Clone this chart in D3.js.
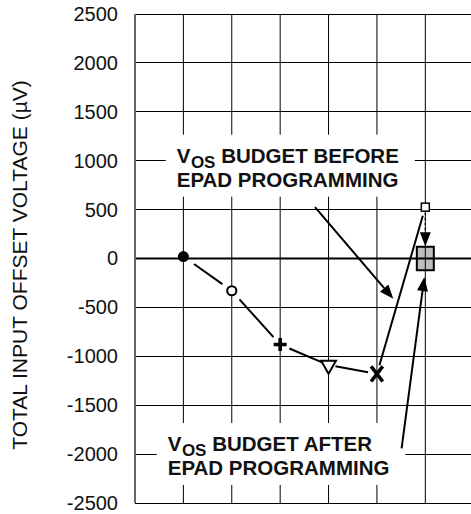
<!DOCTYPE html>
<html>
<head>
<meta charset="utf-8">
<script src="https://cdn.jsdelivr.net/npm/d3@7"></script>
<style>
  body { margin: 0; background: #fff; }
  svg { display: block; font-family: "Liberation Sans", Arial, sans-serif; }
</style>
</head>
<body>
<div class="chart"></div>
<script>
// values
const yTicks = [2500, 2000, 1500, 1000, 500, 0, -500, -1000, -1500, -2000, -2500];
const columns = [0, 1, 2, 3, 4, 5, 6, 7];
const stepPos = [1, 2, 3, 4, 5, 6];
const stepValue = [20, -330, -880, -1090, -1180, 525];
const stepMarker = ['dot', 'ring', 'plus', 'triangle', 'cross', 'square'];
const afterPos = 6;
const afterRange = [-120, 120];
const beforeLines = ['BUDGET BEFORE', 'EPAD PROGRAMMING'];
const afterLines = ['BUDGET AFTER', 'EPAD PROGRAMMING'];
const yTitle = 'TOTAL INPUT OFFSET VOLTAGE (\u00B5V)';

const width = 471, height = 514;
const x = d3.scaleLinear().domain([0, 7]).range([135, 473.7]);
const y = d3.scaleLinear().domain([-2500, 2500]).range([503, 14]);

const svg = d3.select('.chart').append('svg')
    .attr('width', width)
    .attr('height', height);

// after-programming budget box (drawn under the grid)
svg.append('rect')
    .attr('x', x(afterPos) - 8.5)
    .attr('y', y(afterRange[1]))
    .attr('width', 17)
    .attr('height', y(afterRange[0]) - y(afterRange[1]))
    .attr('fill', '#bdbdbd')
    .attr('stroke', '#000')
    .attr('stroke-width', 2);

// grid
svg.append('g').selectAll('line')
    .data(yTicks)
    .enter().append('line')
    .attr('x1', x(0)).attr('x2', x(7))
    .attr('y1', d => y(d)).attr('y2', d => y(d))
    .attr('stroke', '#000')
    .attr('stroke-width', d => d === 0 ? 2.2 : 1)
    .attr('shape-rendering', d => d === 0 ? null : 'crispEdges');

svg.append('g').selectAll('line')
    .data(columns)
    .enter().append('line')
    .attr('x1', d => x(d)).attr('x2', d => x(d))
    .attr('y1', y(2500)).attr('y2', y(-2500))
    .attr('stroke', d => d === 0 ? '#666' : '#000')
    .attr('stroke-width', d => d === 0 ? 2 : 1);

// y axis labels
const yAxis = svg.append('g')
    .attr('transform', `translate(${x(0)},0)`)
    .call(d3.axisLeft(y).tickValues(yTicks).tickSize(0).tickPadding(17).tickFormat(d => String(d)));
yAxis.select('.domain').remove();
yAxis.selectAll('text')
    .attr('font-size', 20)
    .attr('font-family', '"Liberation Sans", Arial, sans-serif')
    .attr('fill', '#111');

svg.append('text')
    .attr('transform', `translate(27,265) rotate(-90)`)
    .attr('text-anchor', 'middle')
    .attr('font-size', 21)
    .attr('fill', '#111')
    .text(yTitle);

// connecting segments with gaps around markers
const gap = { dot: 13, ring: 11.5, plus: 10, triangle: 7, cross: 9, square: 9 };
const pts = stepPos.map((p, i) => ({ x: x(p), y: y(stepValue[i]), m: stepMarker[i] }));
const segs = d3.pairs(pts).map(([a, b]) => {
    const dx = b.x - a.x, dy = b.y - a.y, len = Math.hypot(dx, dy);
    const ux = dx / len, uy = dy / len;
    return [a.x + ux * gap[a.m], a.y + uy * gap[a.m], b.x - ux * gap[b.m], b.y - uy * gap[b.m]];
});
svg.append('g').selectAll('line')
    .data(segs)
    .enter().append('line')
    .attr('x1', d => d[0]).attr('y1', d => d[1])
    .attr('x2', d => d[2]).attr('y2', d => d[3])
    .attr('stroke', '#000')
    .attr('stroke-width', 2);

// markers
const mg = svg.append('g').selectAll('g')
    .data(pts)
    .enter().append('g')
    .attr('transform', d => `translate(${d.x},${d.y})`);

mg.filter(d => d.m === 'dot').append('circle')
    .attr('r', 5.5).attr('fill', '#000');
mg.filter(d => d.m === 'ring').append('circle')
    .attr('r', 4.6).attr('fill', '#fff').attr('stroke', '#000').attr('stroke-width', 2);
mg.filter(d => d.m === 'plus').append('path')
    .attr('d', 'M-6.5,0H6.5M0,-6.5V6.5')
    .attr('stroke', '#000').attr('stroke-width', 3.6);
mg.filter(d => d.m === 'triangle').append('path')
    .attr('d', d3.symbol(d3.symbolTriangle, 95)())
    .attr('transform', 'rotate(180)')
    .attr('fill', '#fff').attr('stroke', '#000').attr('stroke-width', 2);
mg.filter(d => d.m === 'cross').append('path')
    .attr('d', 'M-5.8,-7.6L5.8,7.6M5.8,-7.6L-5.8,7.6')
    .attr('stroke', '#000').attr('stroke-width', 3.6);
mg.filter(d => d.m === 'square').append('rect')
    .attr('x', -4).attr('y', -4).attr('width', 8).attr('height', 8)
    .attr('fill', '#fff').attr('stroke', '#000').attr('stroke-width', 1.5);

// arrow helper
function arrow(x1, y1, x2, y2, dashed) {
    const dx = x2 - x1, dy = y2 - y1, len = Math.hypot(dx, dy);
    const ux = dx / len, uy = dy / len, hl = 14, hw = 5.5;
    const bx = x2 - ux * hl, by = y2 - uy * hl;
    svg.append('line')
        .attr('x1', x1).attr('y1', y1).attr('x2', bx).attr('y2', by)
        .attr('stroke', '#000')
        .attr('stroke-width', dashed ? 1.6 : 2)
        .attr('stroke-dasharray', dashed ? '1.6,3.4' : null);
    svg.append('path')
        .attr('d', `M${x2},${y2}L${bx - uy * hw},${by + ux * hw}L${bx + uy * hw},${by - ux * hw}Z`)
        .attr('fill', '#000');
}

// dotted arrow from before value down to after box
const sq = pts[pts.length - 1];
arrow(sq.x, sq.y + 6, x(afterPos), y(afterRange[1]) - 0.5, true);

// labels with white boxes
function label(lines, lx, base1) {
    const g = svg.append('g');
    const box = g.append('rect').attr('fill', '#fff');
    const t = g.append('text')
        .attr('font-size', 20.5)
        .attr('font-weight', 'bold')
        .attr('fill', '#111');
    const l1 = t.append('tspan').attr('x', lx).attr('y', base1);
    l1.append('tspan').text('V');
    l1.append('tspan').attr('font-size', 17).attr('dx', 0.5).attr('dy', 5).text('OS');
    l1.append('tspan').attr('dy', -5).text('\u00A0' + lines[0]);
    t.append('tspan').attr('x', lx).attr('y', base1 + 24).text(lines[1]);
    const bb = t.node().getBBox();
    box.attr('x', bb.x - 11).attr('y', bb.y - 9)
        .attr('width', bb.width + 27).attr('height', bb.height + 15);
}

label(beforeLines, x(0.862), y(980));
label(afterLines, x(0.676), y(-1968));

arrow(x(3.72), y(525), x(5.338), y(-412), false);
arrow(x(5.51), y(-1941), x(5.98), y(-190), false);
</script>
</body>
</html>
